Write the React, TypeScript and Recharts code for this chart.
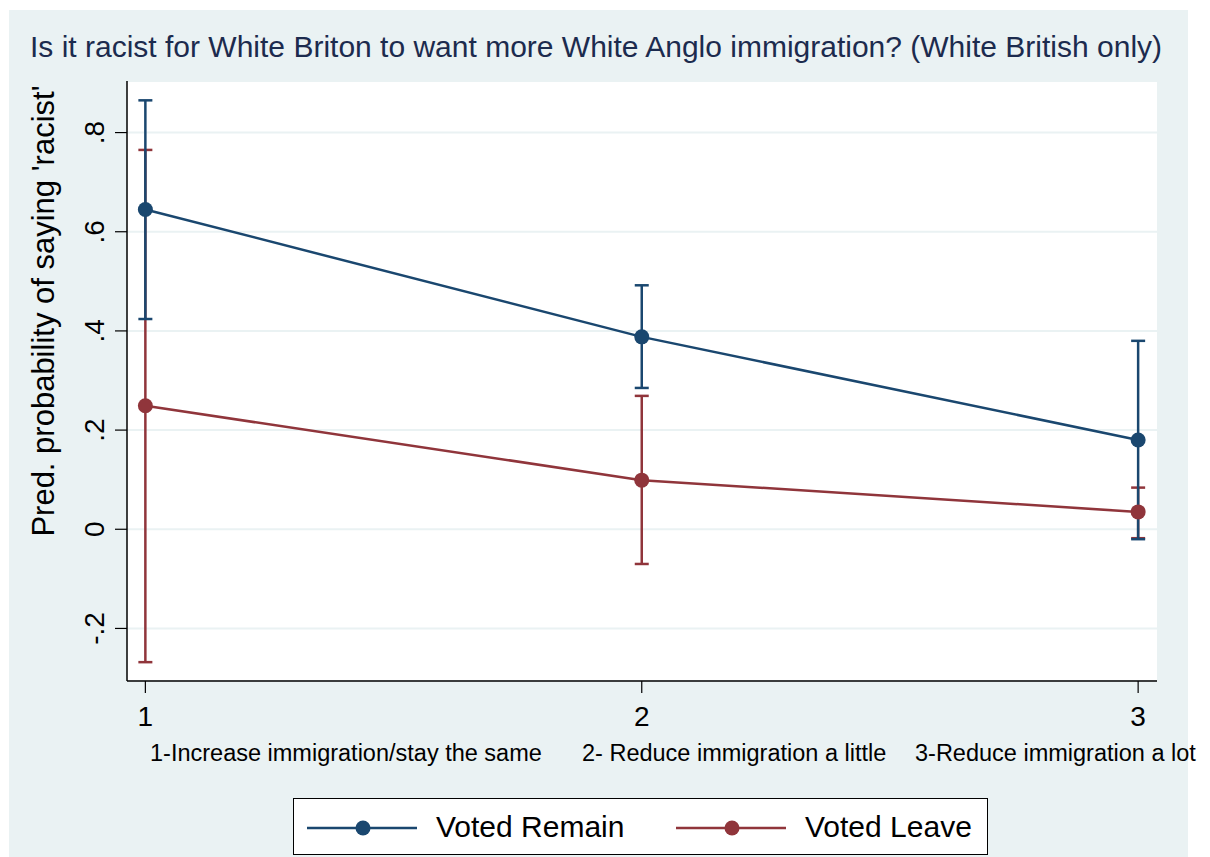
import React from 'react';
import {
  ComposedChart,
  Line,
  XAxis,
  YAxis,
  CartesianGrid,
  ErrorBar,
  Label,
} from 'recharts';

const categories = [1, 2, 3];
const xTickLabels = ['1', '2', '3'];
const categoryNotes = [
  '1-Increase immigration/stay the same',
  '2- Reduce immigration a little',
  '3-Reduce immigration a lot',
];
const remainValues = [0.645, 0.388, 0.18];
const remainLow = [0.424, 0.285, -0.02];
const remainHigh = [0.865, 0.492, 0.38];
const leaveValues = [0.249, 0.099, 0.035];
const leaveLow = [-0.268, -0.07, -0.018];
const leaveHigh = [0.765, 0.269, 0.084];
const yTicks = [-0.2, 0, 0.2, 0.4, 0.6, 0.8];
const yTickLabels = ['-.2', '0', '.2', '.4', '.6', '.8'];
const seriesNames = ['Voted Remain', 'Voted Leave'];
const seriesColors = ['#1a476f', '#90353b'];

const data = categories.map((c, i) => ({
  x: c,
  remain: remainValues[i],
  remainErr: [remainValues[i] - remainLow[i], remainHigh[i] - remainValues[i]],
  leave: leaveValues[i],
  leaveErr: [leaveValues[i] - leaveLow[i], leaveHigh[i] - leaveValues[i]],
}));

const FONT = '"Liberation Sans", Arial, Helvetica, sans-serif';

const YTick = (props: any) => {
  const { y, payload } = props;
  const idx = yTicks.indexOf(payload.value);
  const label = idx >= 0 ? yTickLabels[idx] : String(payload.value);
  const cx = 95;
  return (
    <text
      x={cx}
      y={y}
      transform={`rotate(-90, ${cx}, ${y})`}
      textAnchor="middle"
      dominantBaseline="central"
      fontSize={28}
      fontFamily={FONT}
      fill="#000"
    >
      {label}
    </text>
  );
};

const XTick = (props: any) => {
  const { x, payload } = props;
  const idx = categories.indexOf(payload.value);
  const label = idx >= 0 ? xTickLabels[idx] : String(payload.value);
  return (
    <text
      x={x}
      y={716}
      textAnchor="middle"
      dominantBaseline="central"
      fontSize={28}
      fontFamily={FONT}
      fill="#000"
    >
      {label}
    </text>
  );
};

const noteX = [150, 582, 915];

const NotesLabel = () => (
  <g>
    {categoryNotes.map((t, i) => (
      <text
        key={t}
        x={noteX[i]}
        y={753}
        textAnchor="start"
        dominantBaseline="central"
        fontSize={23.5}
        fontFamily={FONT}
        fill="#000"
      >
        {t}
      </text>
    ))}
  </g>
);

const YTitle = () => (
  <text
    x={43}
    y={311}
    transform="rotate(-90, 43, 311)"
    textAnchor="middle"
    dominantBaseline="central"
    fontSize={31}
    fontFamily={FONT}
    fill="#000"
  >
    Pred. probability of saying 'racist'
  </text>
);

const LegendBox = () => (
  <div
    style={{
      position: 'absolute',
      left: 293,
      top: 798,
      width: 695,
      height: 57,
      border: '1.5px solid #000',
      background: '#fff',
      boxSizing: 'border-box',
      fontFamily: FONT,
    }}
  >
    {seriesNames.map((n, i) => {
      const left = i === 0 ? 13 : 382;
      return (
        <div key={n} style={{ position: 'absolute', left, top: 0, height: 55, width: 320 }}>
          <svg width={112} height={55} style={{ position: 'absolute', left: 0, top: 0 }}>
            <line x1={0} y1={29} x2={110} y2={29} stroke={seriesColors[i]} strokeWidth={2.5} />
            <circle cx={56} cy={29} r={7.5} fill={seriesColors[i]} />
          </svg>
          <span
            style={{
              position: 'absolute',
              left: 129,
              top: 12,
              fontSize: 30,
              lineHeight: '32px',
              color: '#000',
              whiteSpace: 'nowrap',
            }}
          >
            {n}
          </span>
        </div>
      );
    })}
  </div>
);

export default function App() {
  return (
    <div
      style={{
        position: 'absolute',
        left: 0,
        top: 0,
        width: 1210,
        height: 857,
        background: '#ffffff',
        overflow: 'hidden',
      }}
    >
      <div
        style={{
          position: 'absolute',
          left: 9,
          top: 10,
          width: 1179,
          height: 847,
          background: '#eaf2f3',
        }}
      />
      <div
        style={{
          position: 'absolute',
          left: 30,
          top: 29,
          fontFamily: FONT,
          fontSize: 30,
          color: '#1c2b4e',
          whiteSpace: 'nowrap',
          lineHeight: '36px',
        }}
      >
        Is it racist for White Briton to want more White Anglo immigration? (White British only)
      </div>
      <div style={{ position: 'absolute', left: 0, top: 0 }}>
        <ComposedChart
          width={1210}
          height={857}
          data={data}
          margin={{ top: 81, right: 53, bottom: 76, left: 67 }}
          style={{ overflow: 'visible' }}
        >
          <CartesianGrid
            horizontal={true}
            vertical={false}
            stroke="#eaf2f3"
            strokeWidth={2}
            fill="#ffffff"
            fillOpacity={1}
          />
          <XAxis
            type="number"
            dataKey="x"
            domain={[0.963, 3.038]}
            ticks={categories}
            allowDataOverflow
            height={100}
            tickSize={12}
            tickLine={{ stroke: '#000', strokeWidth: 1.2 }}
            axisLine={{ stroke: '#000', strokeWidth: 1.5 }}
            tick={<XTick />}
            interval={0}
          >
            <Label content={<NotesLabel />} />
          </XAxis>
          <YAxis
            type="number"
            domain={[-0.306, 0.904]}
            ticks={yTicks}
            allowDataOverflow
            width={60}
            tickSize={12}
            tickLine={{ stroke: '#000', strokeWidth: 1.2 }}
            axisLine={{ stroke: '#000', strokeWidth: 1.5 }}
            tick={<YTick />}
            interval={0}
          >
            <Label content={<YTitle />} />
          </YAxis>
          <Line
            type="linear"
            dataKey="leave"
            name={seriesNames[1]}
            stroke={seriesColors[1]}
            strokeWidth={2.5}
            dot={{ r: 7.5, fill: seriesColors[1], stroke: seriesColors[1], strokeWidth: 0 }}
            isAnimationActive={false}
          >
            <ErrorBar dataKey="leaveErr" width={7} stroke={seriesColors[1]} strokeWidth={2.5} direction="y" />
          </Line>
          <Line
            type="linear"
            dataKey="remain"
            name={seriesNames[0]}
            stroke={seriesColors[0]}
            strokeWidth={2.5}
            dot={{ r: 7.5, fill: seriesColors[0], stroke: seriesColors[0], strokeWidth: 0 }}
            isAnimationActive={false}
          >
            <ErrorBar dataKey="remainErr" width={7} stroke={seriesColors[0]} strokeWidth={2.5} direction="y" />
          </Line>
        </ComposedChart>
      </div>
      <LegendBox />
    </div>
  );
}
